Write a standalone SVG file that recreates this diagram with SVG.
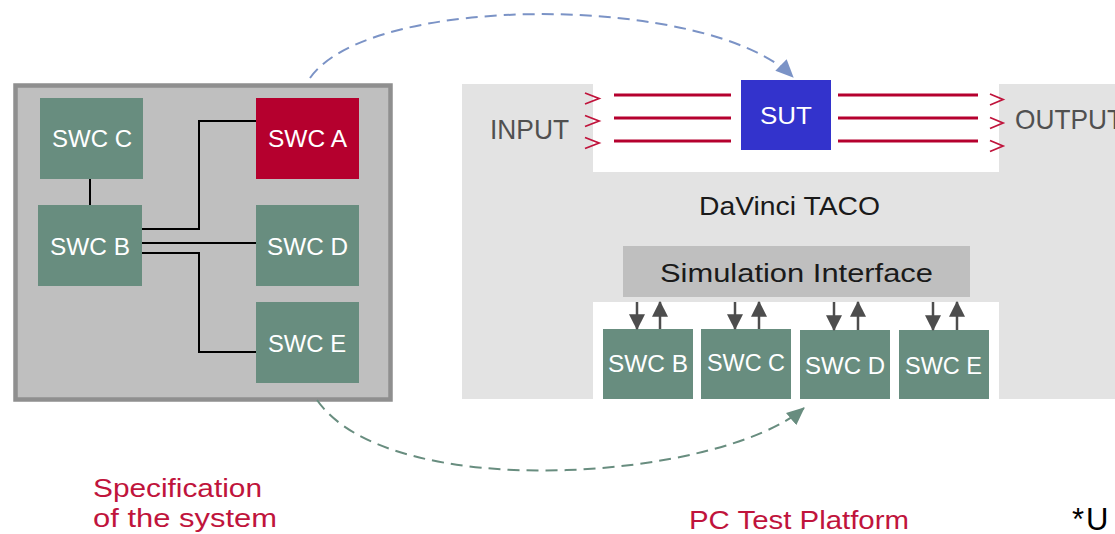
<svg xmlns="http://www.w3.org/2000/svg" width="1115" height="534" viewBox="0 0 1115 534">
<style>
text{font-family:"Liberation Sans",Arial,sans-serif}
.swc{fill:#688d7f}
.lbl{fill:#ffffff;font-size:24px}
.lbs{fill:#ffffff;font-size:23px}
.wire{fill:none;stroke:#000;stroke-width:2}
.sig{stroke:#b5002e;stroke-width:3}
.chev{fill:none;stroke:#c0143c;stroke-width:1.8}
.io{fill:#505050;font-size:28px}
.red{fill:#c0143c;font-size:26px}
.si{stroke:#4d4d4d;stroke-width:2.5}
</style>
<defs>
<marker id="ah" markerUnits="userSpaceOnUse" markerWidth="16" markerHeight="16" viewBox="0 0 14 14" refX="13" refY="7" orient="auto"><path d="M0,0 L14,7 L0,14 Z" fill="#4d4d4d"/></marker>
<marker id="ab" markerUnits="userSpaceOnUse" markerWidth="18" markerHeight="16" viewBox="0 0 18 16" refX="17" refY="8" orient="auto"><path d="M0,0 L18,8 L0,16 Z" fill="#7b93c6"/></marker>
<marker id="ag" markerUnits="userSpaceOnUse" markerWidth="18" markerHeight="16" viewBox="0 0 18 16" refX="17" refY="8" orient="auto"><path d="M0,0 L18,8 L0,16 Z" fill="#688d7f"/></marker>
</defs>
<rect width="1115" height="534" fill="#fff"/>

<g id="spec-system">
<rect x="15.5" y="85.5" width="375" height="314" fill="#bfbfbf" stroke="#8f8f8f" stroke-width="4.5"/>
</g>

<g id="platform">
<rect x="462" y="84" width="653" height="315" fill="#e3e3e3"/>
<rect x="593" y="84" width="406" height="88" fill="#fff"/>
<rect x="593" y="302" width="406" height="97" fill="#fff"/>
<text class="io" x="490" y="139" textLength="79" lengthAdjust="spacingAndGlyphs">INPUT</text>
<text class="io" x="1015" y="129" textLength="108" lengthAdjust="spacingAndGlyphs">OUTPUT</text>
<text x="699" y="215" font-size="25" fill="#1a1a1a" textLength="181" lengthAdjust="spacingAndGlyphs">DaVinci TACO</text>
</g>

<g id="swc-c"><rect class="swc" x="40" y="98" width="103" height="81"/><text class="lbl" x="52" y="147" textLength="80" lengthAdjust="spacingAndGlyphs">SWC C</text></g>
<g id="swc-a"><rect x="256" y="98" width="103" height="81" fill="#b5002e"/><text class="lbl" x="268" y="147" textLength="79" lengthAdjust="spacingAndGlyphs">SWC A</text></g>
<g id="swc-b"><rect class="swc" x="38" y="205" width="104" height="81"/><text class="lbl" x="50" y="255" textLength="80" lengthAdjust="spacingAndGlyphs">SWC B</text></g>
<g id="swc-d"><rect class="swc" x="256" y="205" width="103" height="81"/><text class="lbl" x="267" y="255" textLength="81" lengthAdjust="spacingAndGlyphs">SWC D</text></g>
<g id="swc-e"><rect class="swc" x="256" y="302" width="103" height="81"/><text class="lbl" x="268" y="352" textLength="78" lengthAdjust="spacingAndGlyphs">SWC E</text></g>

<g id="sut"><rect x="741" y="80" width="90" height="70" fill="#3333cc"/><text class="lbl" x="760" y="124" textLength="52" lengthAdjust="spacingAndGlyphs">SUT</text></g>

<g id="sim-interface"><rect x="623" y="246" width="347" height="51" fill="#bfbfbf"/><text x="660" y="282" font-size="25" fill="#1a1a1a" textLength="273" lengthAdjust="spacingAndGlyphs">Simulation Interface</text></g>

<g id="sim-swc-b"><rect class="swc" x="603" y="329" width="90" height="70"/><text class="lbs" x="608" y="372" textLength="80" lengthAdjust="spacingAndGlyphs">SWC B</text></g>
<g id="sim-swc-c"><rect class="swc" x="701" y="329" width="90" height="70"/><text class="lbs" x="707" y="371" textLength="78" lengthAdjust="spacingAndGlyphs">SWC C</text></g>
<g id="sim-swc-d"><rect class="swc" x="800" y="330" width="90" height="69"/><text class="lbs" x="805" y="374" textLength="80" lengthAdjust="spacingAndGlyphs">SWC D</text></g>
<g id="sim-swc-e"><rect class="swc" x="899" y="330" width="90" height="69"/><text class="lbs" x="905" y="374" textLength="77" lengthAdjust="spacingAndGlyphs">SWC E</text></g>

<g id="connectors">
<path class="wire" d="M90,179 V205"/>
<path class="wire" d="M142,229 H199 V121 H256"/>
<path class="wire" d="M142,243 H256"/>
<path class="wire" d="M142,253 H199 V352 H256"/>

<path class="sig" d="M614,95 H731 M614,118 H731 M614,141 H731"/>
<path class="sig" d="M838,95 H978 M838,118 H978 M838,141 H978"/>
<path class="chev" d="M585,93 L599,98.5 L585,104 M585,115.5 L599,121 L585,126.5 M585,137.5 L599,143 L585,148.5"/>
<path class="chev" d="M990,94 L1003,99.5 L990,105 M990,117.5 L1003,123 L990,128.5 M990,140.5 L1003,146 L990,151.5"/>

<line class="si" x1="637" y1="302" x2="637" y2="329" marker-end="url(#ah)"/>
<line class="si" x1="660" y1="329" x2="660" y2="302" marker-end="url(#ah)"/>
<line class="si" x1="735" y1="302" x2="735" y2="329" marker-end="url(#ah)"/>
<line class="si" x1="759" y1="329" x2="759" y2="302" marker-end="url(#ah)"/>
<line class="si" x1="834" y1="302" x2="834" y2="330" marker-end="url(#ah)"/>
<line class="si" x1="858" y1="330" x2="858" y2="302" marker-end="url(#ah)"/>
<line class="si" x1="933" y1="302" x2="933" y2="330" marker-end="url(#ah)"/>
<line class="si" x1="957" y1="330" x2="957" y2="302" marker-end="url(#ah)"/>

<path d="M310,78 C370,-8 710,-6 793,77" fill="none" stroke="#7b93c6" stroke-width="2" stroke-dasharray="12,7" marker-end="url(#ab)"/>
<path d="M317,400 C390,505 720,480 804,408" fill="none" stroke="#688d7f" stroke-width="2" stroke-dasharray="12,7" marker-end="url(#ag)"/>
</g>

<g id="captions">
<text class="red" x="93" y="497" textLength="169" lengthAdjust="spacingAndGlyphs">Specification</text>
<text class="red" x="93" y="527" textLength="184" lengthAdjust="spacingAndGlyphs">of the system</text>
<text class="red" x="689" y="529" textLength="220" lengthAdjust="spacingAndGlyphs">PC Test Platform</text>
<text x="1072" y="530" font-size="31" fill="#000" letter-spacing="2">*U</text>
</g>
</svg>
